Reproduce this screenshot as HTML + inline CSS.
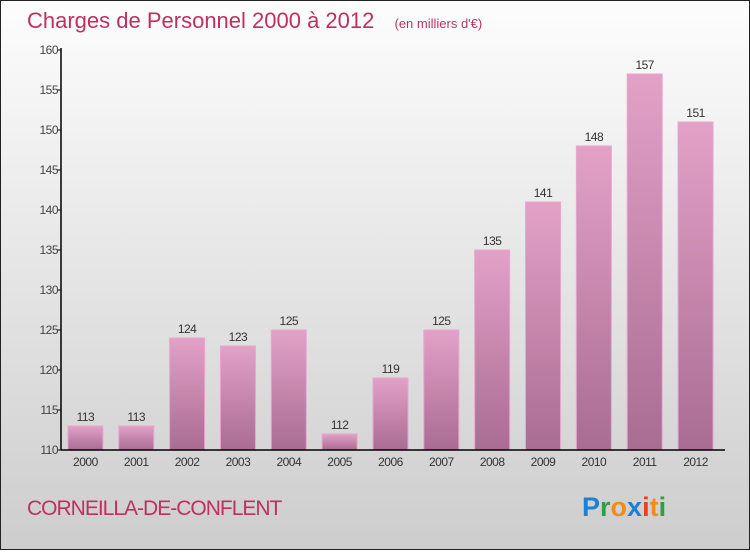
<!DOCTYPE html>
<html><head><meta charset="utf-8"><style>
body{margin:0;width:750px;height:550px;overflow:hidden;font-family:"Liberation Sans",sans-serif}
</style></head><body>
<svg width="750" height="550" xmlns="http://www.w3.org/2000/svg">
<defs>
<linearGradient id="bg" x1="0" y1="0" x2="0" y2="1"><stop offset="0" stop-color="#fdfdfd"/><stop offset="1" stop-color="#cdcdcd"/></linearGradient>
<linearGradient id="bar" x1="0" y1="0" x2="0" y2="1"><stop offset="0" stop-color="#e3a1c8"/><stop offset="1" stop-color="#a96c92"/></linearGradient>
</defs>
<rect x="0.5" y="0.5" width="749" height="549" fill="url(#bg)" stroke="#222"/>
<text x="27" y="28" font-size="22" fill="#c0305f">Charges de Personnel 2000 à 2012 <tspan font-size="13" dx="14">(en milliers d'€)</tspan></text>
<g id="plot"></g>
<text x="27" y="515" font-size="21" fill="#c0305f" letter-spacing="-1">CORNEILLA-DE-CONFLENT</text>
<text x="582" y="516" font-size="27" font-weight="bold"><tspan fill="#1e7fd6">P</tspan><tspan fill="#2ea043">r</tspan><tspan fill="#f28c1c">o</tspan><tspan fill="#1e7fd6">x</tspan><tspan fill="#e8411c">i</tspan><tspan fill="#f28c1c">t</tspan><tspan fill="#2ea043">i</tspan></text>
</svg>
<script>
const categories=["2000","2001","2002","2003","2004","2005","2006","2007","2008","2009","2010","2011","2012"];
const values=[113,113,124,123,125,112,119,125,135,141,148,157,151];
const yTicks=[110,115,120,125,130,135,140,145,150,155,160];
const NS="http://www.w3.org/2000/svg";
const g=document.getElementById("plot");
const yMin=110,yMax=160,y0=450,y1=50,x0=61,x1=722;
const y=v=>y0-(v-yMin)/(yMax-yMin)*(y0-y1);
const step=(x1-x0)/categories.length;
const xc=i=>x0+step*(i+0.48);
function mk(t,a){const e=document.createElementNS(NS,t);for(const k in a)e.setAttribute(k,a[k]);g.appendChild(e);return e;}
yTicks.forEach(v=>{
 const l=mk("line",{x1:x0-4,x2:x0,y1:y(v),y2:y(v),stroke:"#000"});
 
 
 const t=mk("text",{x:x0-3,y:y(v)+4,"font-size":12,"text-anchor":"end",fill:"#444","letter-spacing":"-0.5"});
 t.textContent=v;
 
 
});
values.forEach((v,i)=>{
 const c=xc(i),w=35;
 const r=mk("rect",{x:c-w/2,y:y(v),width:w,height:y0-y(v),fill:"url(#bar)",stroke:"#e8a6cf","stroke-width":1});
 
 
 const t=mk("text",{x:c,y:y(v)-5,"font-size":12,"text-anchor":"middle",fill:"#333","letter-spacing":"-0.5"});
 t.textContent=v;
 
 
 const xl=mk("text",{x:c,y:466,"font-size":12,"text-anchor":"middle",fill:"#333","letter-spacing":"-0.5"});
 xl.textContent=categories[i];
 
 
});
const ya=mk("line",{x1:x0,x2:x0,y1:y1-2,y2:y0,stroke:"#000","stroke-width":1.5});


const xa=mk("line",{x1:x0,x2:x1+3,y1:y0,y2:y0,stroke:"#000","stroke-width":1.5});


</script>
</body></html>
